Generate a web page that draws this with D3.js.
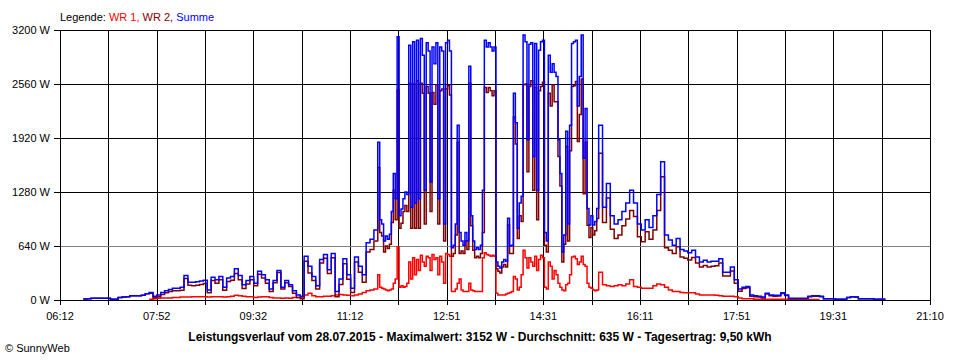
<!DOCTYPE html>
<html>
<head>
<meta charset="utf-8">
<script src="https://cdn.jsdelivr.net/npm/d3@7"></script>
<style>
  body { margin: 0; background: #fff; }
  svg { display: block; }
  text { font-family: "Liberation Sans", Arial, sans-serif; }
</style>
</head>
<body>
<svg id="chart" width="960" height="360"></svg>
<script>
// ---------- data ----------
const seriesNames = ["WR 1", "WR 2", "Summe"];
const xTickLabels = ["06:12", "07:52", "09:32", "11:12", "12:51", "14:31", "16:11", "17:51", "19:31", "21:10"];
const yTickValues = [0, 640, 1280, 1920, 2560, 3200];
const dayStartMinute = 372;   // 06:12
const dayEndMinute = 1270;    // 21:10
const averageWatt = 635;
const titleText = "Leistungsverlauf vom 28.07.2015 - Maximalwert: 3152 W - Durchschnitt: 635 W - Tagesertrag: 9,50 kWh";

// sample times (minutes after midnight): 4-min samples, 2-min samples around noon, 4-min samples
const sampleMinutes = [...d3.range(396, 700, 4), ...d3.range(700, 930, 2), ...d3.range(932, 1228, 4)];

// WR 1 (red)
const wr1 = [
  null,null,null,null,null,null,null,null,null,null,null,null,null,null,null,null,null,
  10,15,20,25,25,25,30,30,35,35,35,40,40,40,40,35,40,40,40,35,40,45,55,50,45,40,40,30,35,40,40,30,25,25,20,25,20,
  30,30,30,60,80,50,40,40,45,45,50,60,65,60,55,50,60,70,90,110,120,130,
  // noon (2-min)
  300,150,140,130,120,110,120,130,200,250,
  630,150,170,150,160,200,450,250,500,300,
  480,350,530,450,400,520,500,350,540,480,
  500,300,520,450,200,550,540,520,100,100,
  130,200,250,120,100,100,100,200,120,110,
  100,100,100,100,500,560,540,530,520,530,
  520,80,60,60,60,60,70,80,90,100,
  280,250,120,150,300,590,500,380,500,450,
  400,520,350,480,530,500,150,130,450,400,
  250,350,300,200,150,120,110,180,200,300,
  510,520,490,420,450,520,420,400,200,150,
  140,120,110,120,330,
  // afternoon (4-min)
  180,170,160,170,180,170,190,240,160,150,140,140,140,170,190,180,150,120,100,100,90,85,85,85,
  70,60,60,60,60,55,50,45,45,45,40,25,15,15,15,10,10,10,10,10,10,8,8,8,5,5,5,5,5,5,5,5,5,
  null,null,null,null,null,null,null,null,null,null,null,null,null,null,null,null,null];

// WR 2 (dark red)
const wr2 = [
  12,15,20,20,20,20,20,10,10,30,35,40,50,50,50,55,75,
  80,30,40,65,85,100,110,110,115,255,175,170,175,185,195,85,230,200,240,115,220,235,315,240,135,190,240,170,305,260,200,100,205,325,130,205,160,
  80,30,15,460,320,230,130,440,495,315,500,40,185,430,245,90,450,330,210,570,600,700,
  1570,800,760,570,640,610,660,920,1300,950,
  2490,850,910,1050,1120,1050,2570,850,2560,850,
  2600,850,2570,2450,900,2530,2450,1050,2460,2320,
  2550,900,2480,2500,700,2500,2540,2430,520,550,
  770,1870,550,580,550,700,600,2570,880,590,
  500,520,500,550,800,2520,2460,2520,2480,2420,
  2480,370,340,320,390,420,390,890,550,550,
  2170,1850,730,1000,930,2550,2560,1520,2530,2600,
  1300,2520,950,2480,2530,2580,650,570,2450,2300,
  2550,2350,2350,1700,1350,450,660,1820,700,1770,
  2530,2540,2590,1880,2200,2620,1260,1870,885,740,
  860,770,820,965,1740,
  920,1210,840,730,770,880,960,1060,990,750,690,810,720,830,1060,1460,620,590,550,630,510,495,475,505,
  440,390,410,390,400,405,440,285,285,345,200,105,135,145,45,40,35,25,70,50,45,47,77,52,15,15,15,15,15,40,45,45,40,
  15,15,15,10,8,8,30,40,35,15,15,15,15,8,8,8,8];

// Summe (blue)
const summe = [
  12,15,20,20,20,20,20,10,10,30,35,40,50,50,50,55,75,
  90,45,60,90,110,125,140,140,150,290,210,210,215,225,235,120,270,240,280,150,260,280,370,290,180,230,280,200,340,300,240,130,230,350,150,230,180,
  110,60,45,520,400,280,170,480,540,360,550,100,250,490,300,140,510,400,300,680,720,830,
  1870,950,900,700,760,720,780,1050,1500,1200,
  3120,1000,1080,1200,1280,1250,3020,1100,3060,1150,
  3080,1200,3100,2900,1300,3050,2950,1400,3000,2800,
  3050,1200,3000,2950,900,3050,3080,2950,620,650,
  900,2070,800,700,650,800,700,2770,1000,700,
  600,620,600,650,1300,3080,3000,3050,3000,2950,
  3000,450,400,380,450,480,460,970,640,650,
  2450,2100,850,1150,1230,3140,3060,1900,3030,3050,
  1700,3040,1300,2960,3060,3080,800,700,2900,2700,
  2800,2700,2650,1900,1500,570,770,2000,900,2070,
  3040,3060,3080,2300,2650,3140,1680,2270,1085,890,
  1000,890,930,1085,2070,
  1100,1380,1000,900,950,1050,1150,1300,1150,900,830,950,860,1000,1250,1640,770,710,650,730,600,580,560,590,
  510,450,470,450,460,460,490,330,330,390,240,130,150,160,60,50,45,35,80,60,55,55,85,60,20,20,20,20,20,45,50,50,45,
  15,15,15,10,8,8,30,40,35,15,15,15,15,8,8,8,8];

// ---------- styles ----------
const colors = { "WR 1": "#ff0000", "WR 2": "#800000", "Summe": "#0000ff" };

// ---------- layout ----------
const plot = { left: 60, right: 930, top: 30, bottom: 300 };
const svg = d3.select("#chart");

const x = d3.scaleLinear().domain([dayStartMinute, dayEndMinute]).range([plot.left, plot.right]);
const y = d3.scaleLinear().domain([0, 3200]).range([plot.bottom, plot.top]);

const gridMinutes = d3.range(19).map(k => dayStartMinute + k * (dayEndMinute - dayStartMinute) / 18);
const labelMinutes = d3.range(10).map(k => dayStartMinute + k * (dayEndMinute - dayStartMinute) / 9);

// vertical grid lines (with ticks below the axis)
svg.append("g").selectAll("line").data(gridMinutes).join("line")
  .attr("x1", d => Math.round(x(d)) + 0.5).attr("x2", d => Math.round(x(d)) + 0.5)
  .attr("y1", plot.top).attr("y2", plot.bottom + 5)
  .attr("stroke", "#000").attr("stroke-width", 1).attr("shape-rendering", "crispEdges");

// horizontal grid lines (with ticks left of the axis)
svg.append("g").selectAll("line").data(yTickValues).join("line")
  .attr("x1", plot.left - 6).attr("x2", plot.right)
  .attr("y1", d => Math.round(y(d)) + 0.5).attr("y2", d => Math.round(y(d)) + 0.5)
  .attr("stroke", "#000").attr("stroke-width", 1).attr("shape-rendering", "crispEdges");

// average line (gray)
svg.append("line")
  .attr("x1", plot.left + 1).attr("x2", plot.right)
  .attr("y1", Math.round(y(averageWatt)) + 0.5).attr("y2", Math.round(y(averageWatt)) + 0.5)
  .attr("stroke", "#808080").attr("stroke-width", 1).attr("shape-rendering", "crispEdges");

// y labels
svg.append("g").selectAll("text").data(yTickValues).join("text")
  .attr("x", 50).attr("y", d => y(d) + 4)
  .attr("text-anchor", "end").attr("font-size", 11).attr("fill", "#000")
  .text(d => d + " W");

// x labels
svg.append("g").selectAll("text").data(labelMinutes).join("text")
  .attr("x", d => x(d)).attr("y", 320)
  .attr("text-anchor", "middle").attr("font-size", 11).attr("fill", "#000")
  .text((d, i) => xTickLabels[i]);

// data lines
svg.append("clipPath").attr("id", "clip").append("rect")
  .attr("x", plot.left).attr("y", plot.top - 2)
  .attr("width", plot.right - plot.left).attr("height", plot.bottom - plot.top + 2);

const line = d3.line()
  .defined(d => d != null)
  .x((d, i) => x(sampleMinutes[i]))
  .y(d => y(d))
  .curve(d3.curveStepAfter);

const seriesData = { "WR 1": wr1, "WR 2": wr2, "Summe": summe };
const gLines = svg.append("g").attr("clip-path", "url(#clip)");
seriesNames.forEach(name => {
  gLines.append("path")
    .attr("d", line(seriesData[name]))
    .attr("fill", "none")
    .attr("stroke", colors[name])
    .attr("stroke-width", 1.5)
    .attr("stroke-linejoin", "miter");
});

// legend
const legend = svg.append("text").attr("x", 60).attr("y", 21).attr("font-size", 11);
legend.append("tspan").attr("fill", "#000").text("Legende: ");
seriesNames.forEach((name, i) => {
  legend.append("tspan").attr("fill", colors[name]).text(name + (i < seriesNames.length - 1 ? ", " : ""));
});

// title
svg.append("text").attr("x", 480).attr("y", 341)
  .attr("text-anchor", "middle").attr("font-size", 12).attr("font-weight", "bold").attr("fill", "#000")
  .text(titleText);

// copyright
svg.append("text").attr("x", 5).attr("y", 352).attr("font-size", 11).attr("fill", "#000")
  .text("© SunnyWeb");
</script>
</body>
</html>
